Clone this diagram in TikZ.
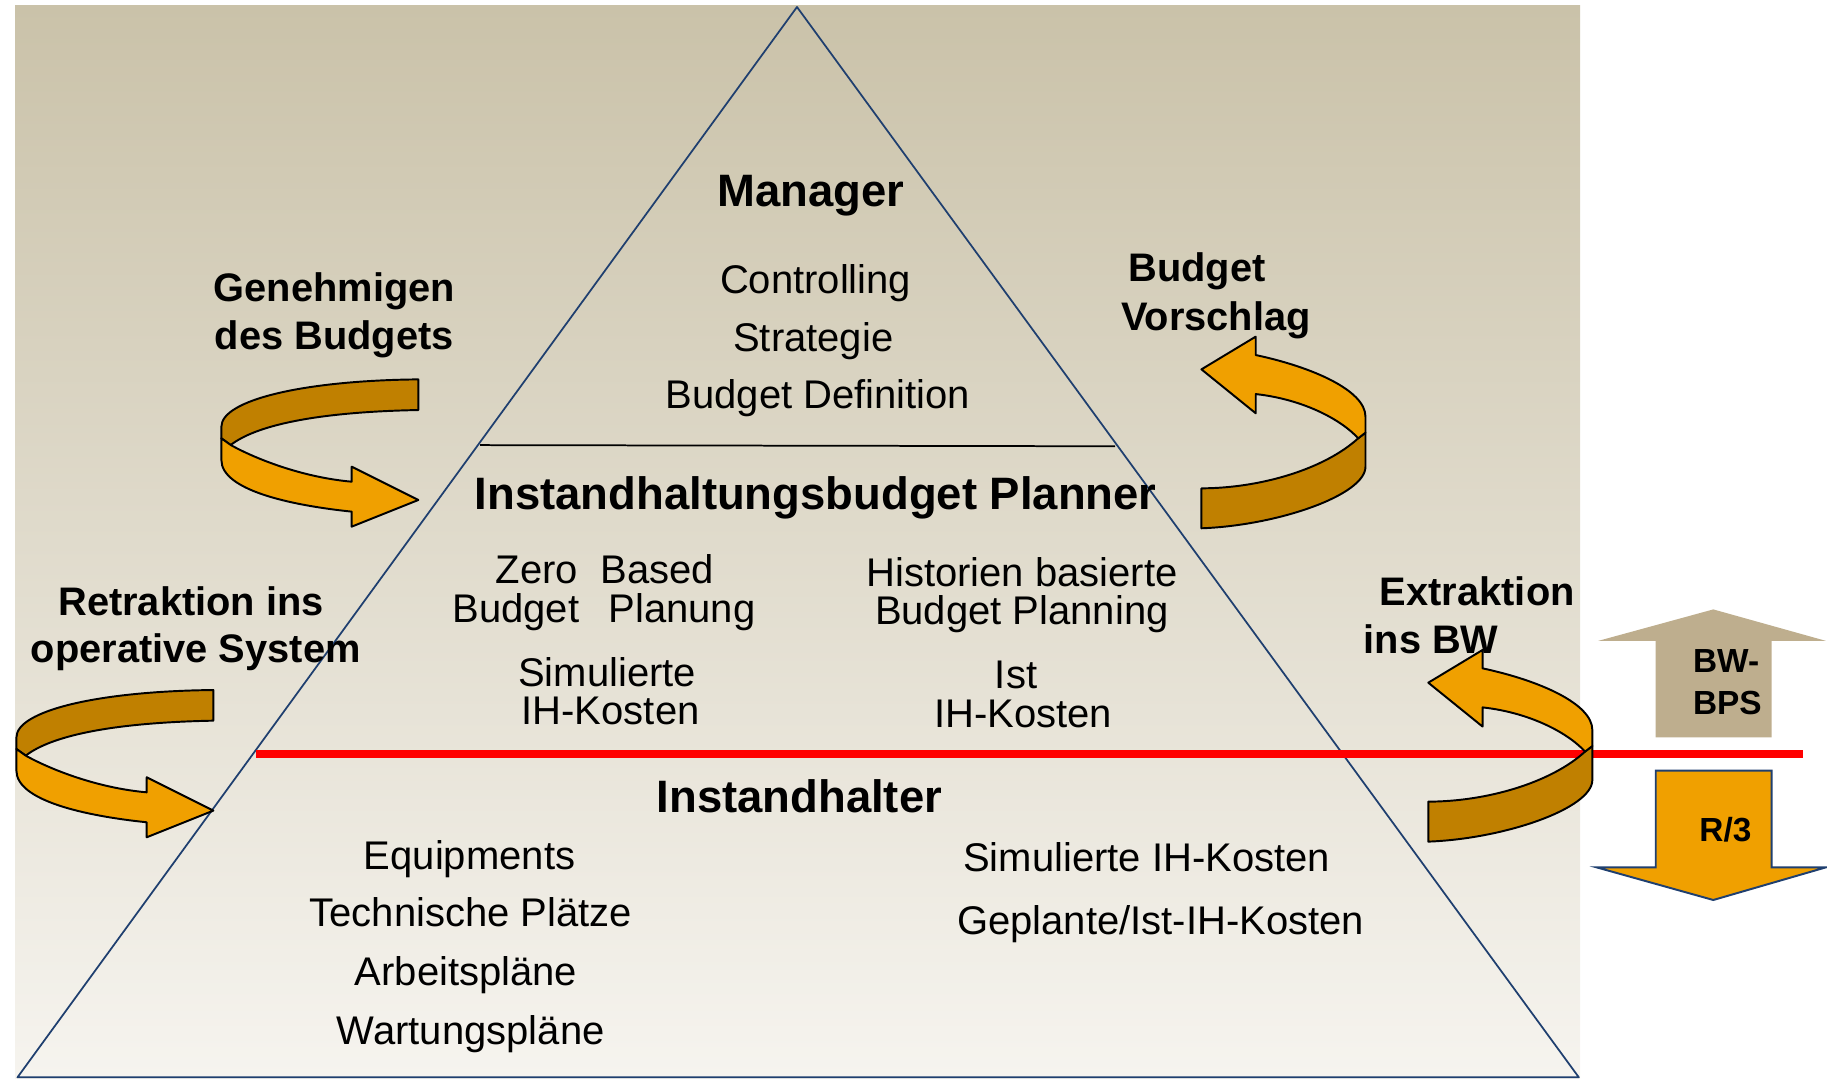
\documentclass[tikz,border=0pt]{standalone}
\usepackage{fontspec}
\setmainfont{Liberation Sans}
\definecolor{bgtop}{RGB}{202,194,169}
\definecolor{bgbot}{RGB}{246,244,239}
\definecolor{navy}{RGB}{31,63,111}
\definecolor{orfront}{RGB}{240,160,0}
\definecolor{orback}{RGB}{192,128,0}
\definecolor{tanar}{RGB}{190,174,142}
\begin{document}
\begin{tikzpicture}[x=0.6pt,y=-0.6pt,
  reg/.style={font=\fontsize{20.6}{24}\selectfont, inner sep=0pt, anchor=base},
  headtxt/.style={font=\bfseries\fontsize{23.4}{28}\selectfont, inner sep=0pt, anchor=base},
  lab/.style={font=\bfseries\fontsize{20.5}{24}\selectfont, inner sep=0pt, anchor=base},
  smalllab/.style={font=\bfseries\fontsize{17.2}{20}\selectfont, inner sep=0pt, anchor=base west},
  band/.style={draw=black, line width=1pt, line join=round},
  triline/.style={draw=navy, line width=0.9pt},
]
\useasboundingbox (0,0) rectangle (1568,926);
% background
\shade[top color=bgtop, bottom color=bgbot] (13,5) rectangle (1356,926);
% pyramid
\coordinate (apex) at (684,6);
\coordinate (bl) at (15,924.6);
\coordinate (br) at (1355,924.6);
\draw[triline, line join=round] (apex) -- (bl) -- (br) -- cycle;
\coordinate (sepL) at (412,382);
\coordinate (sepR) at (957,383);
\draw[black, line width=0.9pt] (sepL) -- (sepR);
\coordinate (redL) at (220,647);
\coordinate (redR) at (1547,647);
\draw[red, line width=4pt] (redL) -- (redR);

% left curved arrows
\foreach \sx/\sy in {359/325.6, 183.1/592.2}{
\begin{scope}[shift={(\sx,\sy)}]
\filldraw[band, fill=orback] (0,0) .. controls (-100,1) and (-169,18) .. (-169,40.6)
  -- (-169,50.6) -- (-161,56.3) .. controls (-140,40) and (-90,28) .. (0,26.3) -- cycle;
\filldraw[band, fill=orfront] (-161,56.3) .. controls (-140,68) and (-100,84) .. (-57.2,87.8)
  -- (-57.2,74.9) -- (0,103.5) -- (-57.2,126.4) -- (-57.2,113.5)
  .. controls (-110,108) and (-169,95) .. (-169,69.2) -- (-169,50.6) -- cycle;
\end{scope}}

% right curved arrows
\foreach \sx/\sy in {1031.1/317.0, 1225.8/585.9}{
\begin{scope}[shift={(\sx,\sy)}]
\filldraw[band, fill=orback] (134.5,59.2) .. controls (105,86) and (50,102) .. (0,102.1)
  -- (0,136.4) .. controls (65,134) and (140.8,108) .. (140.8,83.5) -- (140.8,54.3) -- cycle;
\filldraw[band, fill=orfront] (0,0) -- (46.6,-28.1) -- (46.6,-12.3)
  .. controls (95,-2) and (140.8,18) .. (140.8,40.6) -- (140.8,54.3) -- (134.5,59.2)
  .. controls (122,45) and (90,26) .. (46.6,21.2) -- (46.6,37.7) -- cycle;
\end{scope}}

% block arrows
\fill[tanar] (1421,632.8) -- (1421,550) -- (1371.7,550) -- (1470.4,523) -- (1567,550)
  -- (1520.5,550) -- (1520.5,632.8) -- cycle;
\filldraw[fill=orfront, draw=navy, line width=1pt, line join=miter] (1421,661.4) -- (1520.5,661.4)
  -- (1520.5,744.4) -- (1567,744.4) -- (1470.4,772.4) -- (1370.3,744.4) -- (1421,744.4) -- cycle;

% texts
\node[headtxt] (manager) at (696,177) {Manager};
\node[reg] (ctrl) at (700,252) {Controlling};
\node[reg] (strat) at (698,302) {Strategie};
\node[reg] (bdef) at (702,351) {Budget Definition};
\node[headtxt] (ibp) at (700,437) {Instandhaltungsbudget Planner};
\node[reg, anchor=base west] (zero) at (425,501) {Zero};
\node[reg, anchor=base west] (based) at (515,501) {Based};
\node[reg, anchor=base west] (budgetz) at (388,534) {Budget};
\node[reg, anchor=base west] (planung) at (522,534) {Planung};
\node[reg] (hist) at (877,503) {Historien basierte};
\node[reg] (bplan) at (877,536) {Budget Planning};
\node[reg] (sim) at (521,589) {Simulierte};
\node[reg] (ihka) at (524,622) {IH-Kosten};
\node[reg] (ist) at (872,591) {Ist};
\node[reg] (ihkb) at (878,624) {IH-Kosten};
\node[headtxt] (ih) at (686,697) {Instandhalter};
\node[reg] (equip) at (403,746) {Equipments};
\node[reg] (tech) at (404,795) {Technische Plätze};
\node[reg] (arb) at (400,846) {Arbeitspläne};
\node[reg] (wart) at (404,896) {Wartungspläne};
\node[reg] (simk) at (984,748) {Simulierte IH-Kosten};
\node[reg] (gepl) at (996,802) {Geplante/Ist-IH-Kosten};
\node[lab] (gena) at (287,259) {Genehmigen};
\node[lab] (genb) at (287,300) {des Budgets};
\node[lab, anchor=base west] (bva) at (968,242) {Budget};
\node[lab, anchor=base west] (bvb) at (962,284) {Vorschlag};
\node[lab] (reta) at (164,528) {Retraktion ins};
\node[lab] (retb) at (168,569) {operative System};
\node[lab, anchor=base west] (exa) at (1184,520) {Extraktion};
\node[lab, anchor=base west] (exb) at (1170,561) {ins BW};
\node[smalllab] (bwa) at (1452.7,577.3) {BW-};
\node[smalllab] (bwb) at (1452.7,613.6) {BPS};
\node[smalllab] (rdrei) at (1458.2,722.3) {R/3};
\end{tikzpicture}
\end{document}
